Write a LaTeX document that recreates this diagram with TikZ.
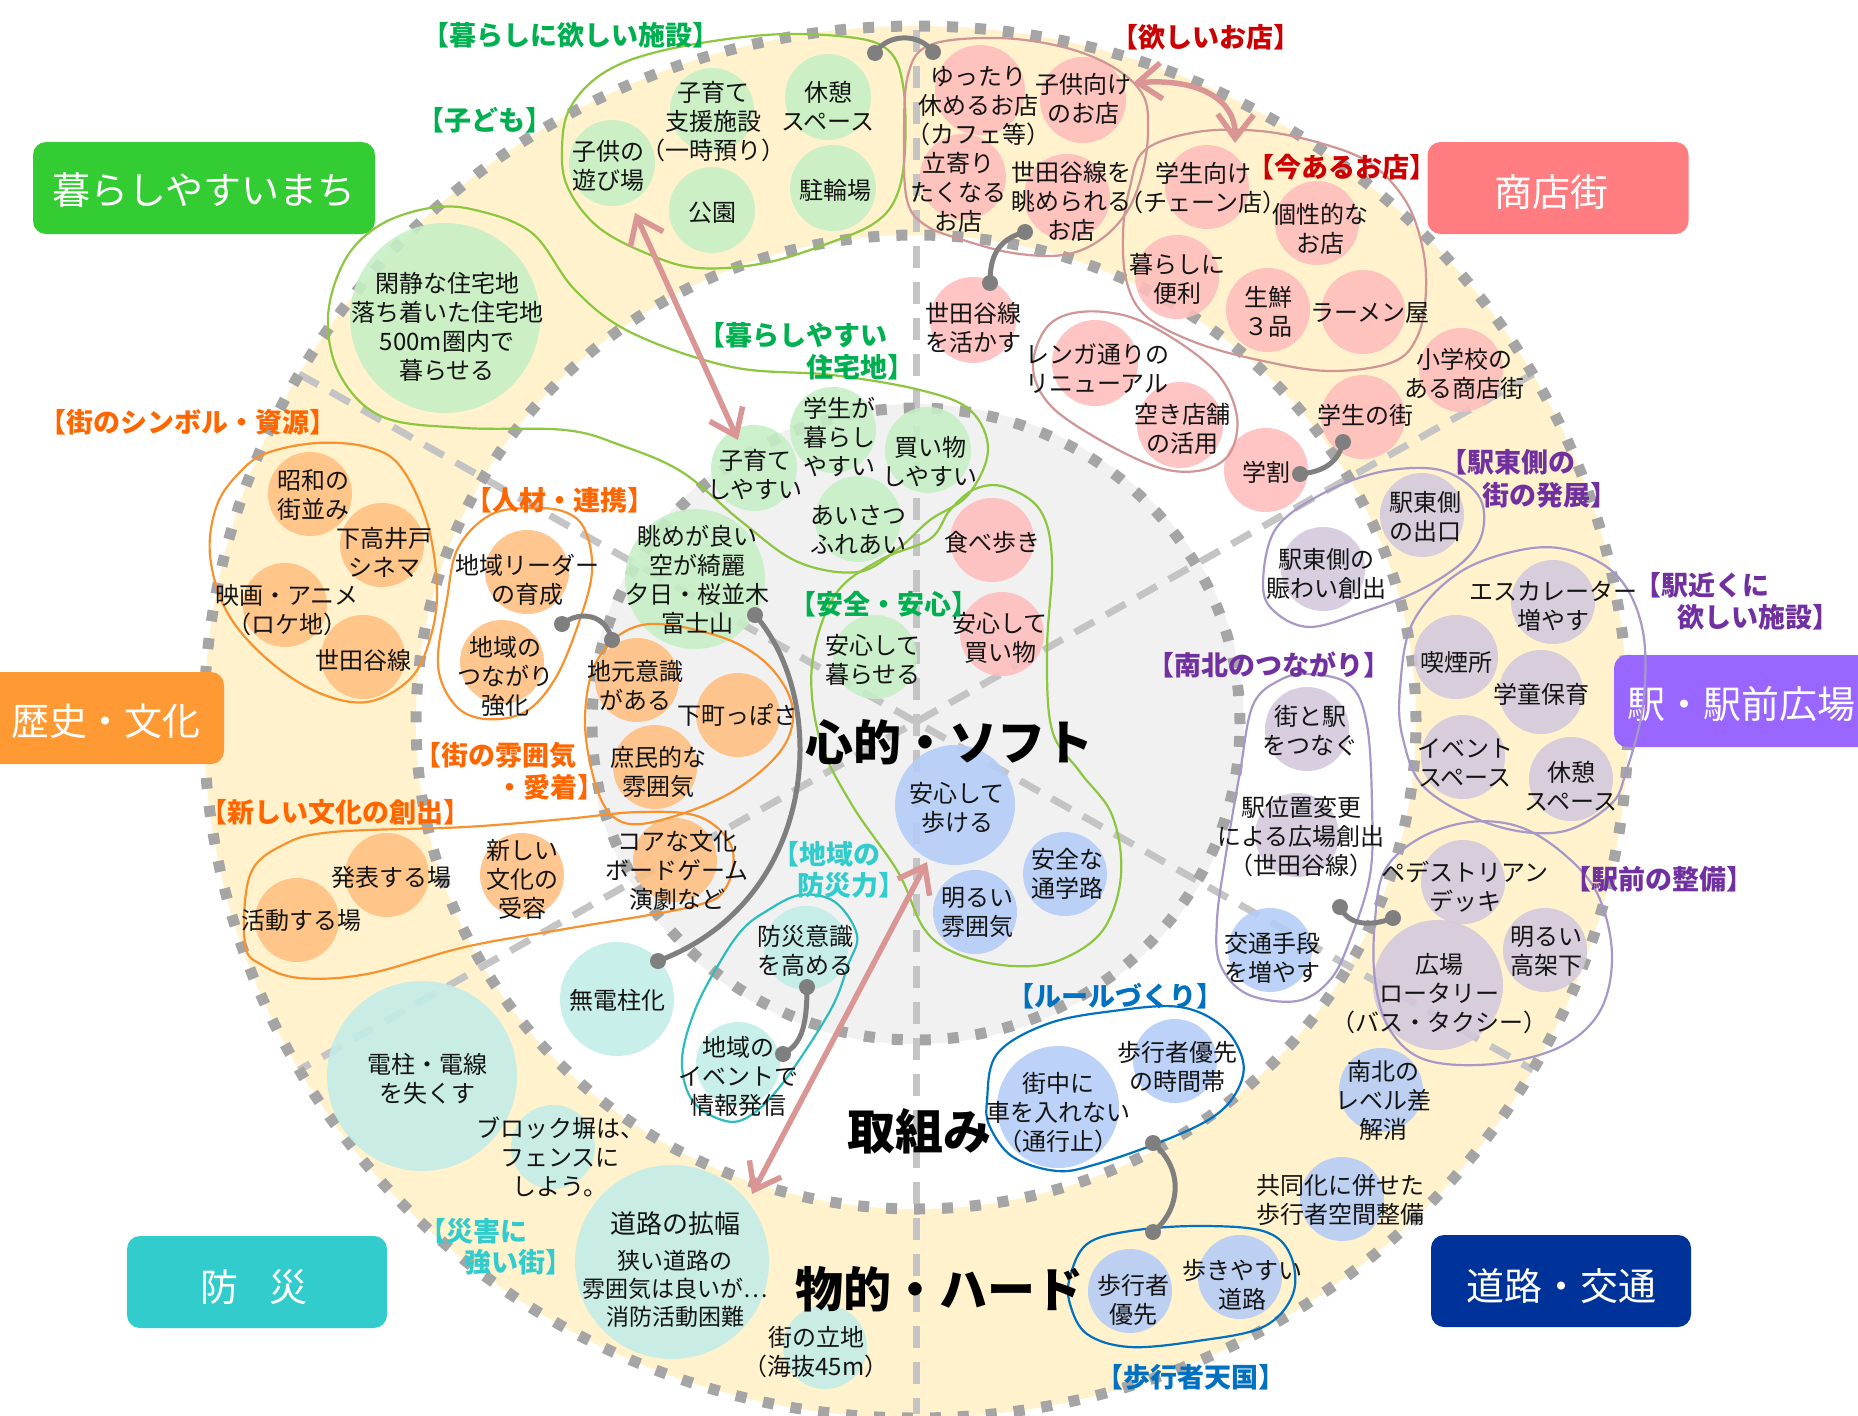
\documentclass[tikz,border=0pt]{standalone}
\usepackage{fontspec}
\setmainfont{Noto Sans CJK JP}
\usetikzlibrary{arrows.meta}
\definecolor{CR}{HTML}{FFF2CC}
\definecolor{IG}{HTML}{F1F1F1}
\definecolor{DG}{HTML}{A5A5A5}
\definecolor{RD}{HTML}{C4C4C4}
\definecolor{GB}{HTML}{C6EFC6}
\definecolor{PB}{HTML}{FFBDBD}
\definecolor{OB}{HTML}{FFBF80}
\definecolor{TB}{HTML}{C2EDE8}
\definecolor{BB}{HTML}{B4CCF8}
\definecolor{VB}{HTML}{D3C8DC}
\definecolor{GO}{HTML}{8DC63F}
\definecolor{PO}{HTML}{D09595}
\definecolor{OO}{HTML}{F7922E}
\definecolor{TO}{HTML}{2EBDBD}
\definecolor{BO}{HTML}{0070C0}
\definecolor{VO}{HTML}{A898C8}
\definecolor{GL}{HTML}{00B050}
\definecolor{RL}{HTML}{CC0000}
\definecolor{OL}{HTML}{FF6600}
\definecolor{TL}{HTML}{33CCCC}
\definecolor{BL}{HTML}{0070C0}
\definecolor{VL}{HTML}{7030A0}
\definecolor{CG}{HTML}{7F7F7F}
\definecolor{PA}{HTML}{D99694}
\definecolor{KG}{HTML}{33CC33}
\definecolor{KP}{HTML}{FF7C80}
\definecolor{KO}{HTML}{FF9933}
\definecolor{KV}{HTML}{9966FF}
\definecolor{KT}{HTML}{33CCCC}
\definecolor{KN}{HTML}{003399}
\tikzset{
  bub/.style={circle, inner sep=0pt, minimum size=84pt, fill opacity=0.88},
  gbub/.style={bub, fill=GB}, pbub/.style={bub, fill=PB}, obub/.style={bub, fill=OB},
  tbub/.style={bub, fill=TB}, bbub/.style={bub, fill=BB}, vbub/.style={bub, fill=VB},
  tx/.style={align=center, inner sep=0pt, font=\fontsize{24}{29}\selectfont, text=black!92},
  lab/.style={inner sep=0pt, font=\fontsize{27}{31}\selectfont\bfseries},
  catbox/.style={rounded corners=13pt, inner sep=0pt, minimum height=92pt},
  cattext/.style={text=white, inner sep=0pt, font=\fontsize{38}{41}\selectfont},
  big/.style={inner sep=0pt, font=\fontsize{48}{52}\selectfont\bfseries},
  grp/.style={line width=2.2pt},
  conn/.style={draw=CG, line width=5pt, line cap=round},
  cdot/.style={fill=CG},
  parrow/.style={draw=PA, line width=5.5pt, line cap=round, {Straight Barb[length=24pt,width=36pt]}-{Straight Barb[length=24pt,width=36pt]}},
  rad/.style={draw=RD, line width=7pt, dash pattern=on 22pt off 14pt},
  ring/.style={draw=DG, line width=11pt, dash pattern=on 11pt off 17pt},
}
\begin{document}
\begin{tikzpicture}[x=1pt,y=-1pt]
\useasboundingbox (0,0) rectangle (1858,1416);
% ---------------- base rings
\fill[CR] (916,722) ellipse [x radius=712pt, y radius=696pt];
\fill[white] (916,722) ellipse [x radius=500pt, y radius=487pt];
\fill[IG] (916,724) ellipse [x radius=328pt, y radius=320pt];
\draw[rad] (916,30) -- (916,1414);
\draw[rad] (1533,374) -- (299,1070);
\draw[rad] (299,374) -- (1533,1070);
\draw[ring] (916,722) ellipse [x radius=712pt, y radius=696pt];
\draw[ring] (916,722) ellipse [x radius=500pt, y radius=487pt];
\draw[ring] (916,724) ellipse [x radius=324pt, y radius=316pt];
% ---------------- category boxes
\node[catbox, fill=KG, minimum width=342pt] (box-kurashi) at (204,188) {};
\node[catbox, fill=KP, minimum width=261pt] (box-shoten) at (1558,188) {};
\node[catbox, fill=KO, minimum width=264pt] (box-rekishi) at (92,718) {};
\node[catbox, fill=KV, minimum width=270pt] (box-eki) at (1749,701) {};
\node[catbox, fill=KT, minimum width=260pt] (box-bosai) at (257,1282) {};
\node[catbox, fill=KN, minimum width=260pt] (box-doro) at (1561,1281) {};
\node[cattext] (cat-kurashi) at (204,190) {暮らしやすいまち};
\node[cattext] (cat-shoten) at (1551,192) {商店街};
\node[cattext] (cat-rekishi) at (106,721) {歴史・文化};
\node[cattext] (cat-eki) at (1741,704) {駅・駅前広場};
\node[cattext] (cat-bosai) at (254,1287) {防\hspace{32pt}災};
\node[cattext] (cat-doro) at (1561,1286) {道路・交通};
% ---------------- bubbles: green
\node[gbub, minimum size=86pt] (b-asobi) at (612,163) {};
\node[gbub] (b-shien) at (712,110) {};
\node[gbub, minimum size=86pt] (b-kyukei1) at (828,97) {};
\node[gbub, minimum size=86pt] (b-koen) at (712,210) {};
\node[gbub, minimum size=86pt] (b-churin) at (833,188) {};
\node[gbub, minimum size=190pt] (b-kansei) at (445,318) {};
\node[gbub, minimum size=86pt] (b-kosodate) at (754,468) {};
\node[gbub, minimum size=86pt] (b-gakusei) at (833,430) {};
\node[gbub, minimum size=86pt] (b-kaimono) at (928,450) {};
\node[gbub, minimum size=86pt] (b-aisatsu) at (858,519) {};
\node[gbub, minimum size=140pt] (b-nagame) at (695,579) {};
\node[gbub] (b-kuraseru) at (875,657) {};
% pink
\node[pbub, minimum size=90pt] (b-yuttari) at (980,90) {};
\node[pbub, minimum size=86pt] (b-kodomomuke) at (1083,100) {};
\node[pbub, minimum size=86pt] (b-tachiyori) at (963,177) {};
\node[pbub, minimum size=86pt] (b-nagamerareru) at (1067,197) {};
\node[pbub, minimum size=86pt] (b-ikasu) at (973,320) {};
\node[pbub] (b-gakuseimuke) at (1207,187) {};
\node[pbub] (b-kosei) at (1317,223) {};
\node[pbub] (b-benri) at (1177,277) {};
\node[pbub] (b-sen3) at (1268,310) {};
\node[pbub] (b-ramen) at (1363,312) {};
\node[pbub] (b-shogakko) at (1461,370) {};
\node[pbub] (b-gakuseimachi) at (1363,417) {};
\node[pbub] (b-gakuwari) at (1266,470) {};
\node[pbub, minimum size=86pt] (b-renga) at (1095,363) {};
\node[pbub, minimum size=86pt] (b-akitenpo) at (1180,425) {};
\node[pbub] (b-tabearuki) at (992,540) {};
\node[pbub] (b-anshinkaimono) at (1002,634) {};
% orange
\node[obub] (b-showa) at (310,494) {};
\node[obub] (b-shimotaka) at (382,545) {};
\node[obub] (b-eiga) at (285,605) {};
\node[obub] (b-setagayasen) at (363,657) {};
\node[obub] (b-leader) at (527,572) {};
\node[obub] (b-tsunagari) at (502,662) {};
\node[obub] (b-jimoto) at (637,680) {};
\node[obub] (b-shitamachi) at (738,715) {};
\node[obub] (b-shomin) at (655,767) {};
\node[obub] (b-happyo) at (387,875) {};
\node[obub] (b-katsudo) at (297,920) {};
\node[obub] (b-atarashii) at (522,875) {};
\node[obub] (b-core) at (675,860) {};
% teal
\node[tbub, minimum size=114pt] (b-mudenchu) at (617,999) {};
\node[tbub, minimum size=190pt] (b-denchu) at (422,1076) {};
\node[tbub] (b-block) at (553,1147) {};
\node[tbub, minimum size=194pt] (b-kakufuku) at (672,1262) {};
\node[tbub] (b-ritchi) at (825,1347) {};
\node[tbub] (b-ishiki) at (806,948) {};
\node[tbub] (b-event) at (738,1064) {};
% blue
\node[bbub, minimum size=120pt] (b-aruku) at (955,805) {};
\node[bbub] (b-tsugakuro) at (1065,874) {};
\node[bbub] (b-akarui) at (975,912) {};
\node[bbub, minimum size=122pt] (b-machinaka) at (1058,1107) {};
\node[bbub] (b-jikantai) at (1175,1061) {};
\node[bbub] (b-yusen) at (1130,1291) {};
\node[bbub] (b-arukiyasui) at (1240,1277) {};
\node[bbub] (b-level) at (1381,1090) {};
\node[bbub] (b-kyodoka) at (1342,1199) {};
\node[bbub] (b-kotsu) at (1270,950) {};
% purple
\node[vbub] (b-deguchi) at (1422,515) {};
\node[vbub] (b-nigiwai) at (1323,569) {};
\node[vbub] (b-escalator) at (1553,602) {};
\node[vbub] (b-kitsuen) at (1456,657) {};
\node[vbub] (b-gakudo) at (1541,692) {};
\node[vbub] (b-eventspace) at (1463,757) {};
\node[vbub] (b-kyukei2) at (1571,779) {};
\node[vbub] (b-deck) at (1463,882) {};
\node[vbub] (b-kouka) at (1545,950) {};
\node[vbub, minimum size=130pt] (b-hiroba) at (1438,985) {};
\node[vbub] (b-machieki) at (1307,729) {};
\node[vbub] (b-ekiichi) at (1297,835) {};
% ---------------- group outlines
\draw[grp, GO] plot[smooth cycle, tension=0.6] coordinates {(562,150) (570,108) (605,72) (665,50) (765,35) (848,37) (888,50) (903,85) (905,150) (897,195) (876,222) (832,242) (765,263) (698,268) (648,254) (598,227) (568,188)};
\draw[grp, GO] plot[smooth cycle, tension=0.6] coordinates {(328,317) (345,260) (380,225) (430,208) (475,210) (532,233) (575,290) (632,333) (732,367) (832,375) (920,390) (970,410) (988,450) (968,495) (930,520) (898,549) (858,572) (798,562) (742,522) (682,472) (620,445) (565,430) (465,428) (383,417) (340,375)};
\draw[grp, GO] plot[smooth cycle, tension=0.6] coordinates {(930,539) (950,510) (975,489) (1005,487) (1040,510) (1052,560) (1047,650) (1052,730) (1080,772) (1112,815) (1121,875) (1103,930) (1060,960) (1013,966) (960,955) (925,930) (898,872) (852,805) (820,740) (812,665) (835,595) (880,560)};
\draw[grp, PO] plot[smooth cycle, tension=0.6] coordinates {(908,75) (930,45) (997,38) (1063,47) (1113,67) (1143,95) (1148,130) (1143,170) (1128,210) (1100,240) (1063,255) (1013,253) (963,240) (925,225) (907,200) (904,140)};
\draw[grp, PO] plot[smooth cycle, tension=0.6] coordinates {(1123,233) (1130,187) (1145,150) (1197,132) (1260,131) (1320,143) (1370,163) (1405,200) (1422,245) (1426,290) (1418,335) (1393,362) (1330,371) (1263,361) (1197,343) (1147,317) (1127,283)};
\draw[grp, PO] plot[smooth cycle, tension=0.6] coordinates {(1033,367) (1047,327) (1080,312) (1130,317) (1180,343) (1220,377) (1237,417) (1230,453) (1203,470) (1160,468) (1100,440) (1050,405)};
\draw[grp, OO] plot[smooth cycle, tension=0.6] coordinates {(240,472) (267,453) (317,443) (367,447) (400,466) (427,522) (437,589) (430,639) (410,679) (367,702) (317,692) (267,659) (227,612) (210,555) (217,505)};
\draw[grp, OO] plot[smooth cycle, tension=0.6] coordinates {(447,599) (458,548) (490,515) (530,508) (565,512) (585,530) (592,572) (578,625) (555,679) (525,712) (485,719) (455,705) (438,665)};
\draw[grp, OO] plot[smooth cycle, tension=0.6] coordinates {(642,625) (715,635) (765,662) (792,705) (782,749) (732,792) (665,819) (622,822) (598,792) (585,722) (598,659)};
\draw[grp, OO] plot[smooth cycle, tension=0.6] coordinates {(245,944) (250,875) (283,845) (333,832) (465,827) (565,819) (640,812) (700,817) (732,848) (725,889) (690,907) (565,929) (465,947) (367,974) (300,978) (262,965)};
\draw[grp, TO] plot[smooth cycle, tension=0.6] coordinates {(765,912) (800,895) (835,902) (857,935) (848,965) (830,1011) (782,1084) (748,1117) (722,1120) (692,1100) (682,1060) (695,1010) (720,962) (742,930)};
\draw[grp, BO] plot[smooth cycle, tension=0.6] coordinates {(987,1101) (997,1054) (1047,1024) (1113,1011) (1180,1007) (1223,1027) (1243,1061) (1237,1091) (1213,1117) (1163,1141) (1097,1164) (1057,1171) (1013,1157) (990,1127)};
\draw[grp, BO] plot[smooth cycle, tension=0.6] coordinates {(1070,1277) (1087,1244) (1130,1231) (1197,1226) (1263,1231) (1290,1254) (1293,1294) (1263,1327) (1197,1341) (1130,1347) (1087,1334) (1070,1304)};
\draw[grp, VO] plot[smooth cycle, tension=0.6] coordinates {(1263,585) (1275,530) (1320,495) (1380,472) (1440,470) (1478,495) (1483,530) (1465,560) (1420,590) (1363,612) (1310,627) (1275,612)};
\draw[grp, VO] plot[smooth cycle, tension=0.6] coordinates {(1400,689) (1413,622) (1460,572) (1526,549) (1576,552) (1620,579) (1643,632) (1643,705) (1626,772) (1610,805) (1560,832) (1493,825) (1426,789) (1403,739)};
\draw[grp, VO] plot[smooth cycle, tension=0.6] coordinates {(1385,870) (1420,838) (1470,822) (1520,827) (1565,855) (1598,895) (1612,955) (1600,1011) (1560,1047) (1493,1064) (1426,1060) (1390,1030) (1375,980) (1375,920)};
\draw[grp, VO] plot[smooth cycle, tension=0.6] coordinates {(1253,705) (1280,680) (1310,674) (1350,685) (1367,725) (1372,805) (1370,875) (1350,940) (1330,980) (1297,1001) (1247,994) (1220,964) (1217,920) (1225,860) (1240,772)};
% ---------------- connectors
\coordinate (c1a) at (875,53); \coordinate (c1b) at (933,52);
\coordinate (c2a) at (1025,232); \coordinate (c2b) at (990,283);
\coordinate (c3a) at (1343,442); \coordinate (c3b) at (1300,474);
\coordinate (c4a) at (562,624); \coordinate (c4b) at (612,640);
\coordinate (c5a) at (755,615); \coordinate (c5b) at (658,961);
\coordinate (c6a) at (807,987); \coordinate (c6b) at (783,1054);
\coordinate (c7a) at (1153,1143); \coordinate (c7b) at (1153,1232);
\coordinate (c8a) at (1340,907); \coordinate (c8b) at (1393,918);
\draw[conn] (c1a) .. controls (888,33) and (920,33) .. (c1b);
\draw[conn] (c2a) .. controls (995,240) and (990,260) .. (c2b);
\draw[conn] (c3a) .. controls (1338,465) and (1320,472) .. (c3b);
\draw[conn] (c4a) .. controls (580,610) and (606,614) .. (c4b);
\draw[conn] (c5a) .. controls (830,700) and (820,900) .. (c5b);
\draw[conn] (c6a) .. controls (807,1030) and (800,1045) .. (c6b);
\draw[conn] (c7a) .. controls (1185,1170) and (1180,1210) .. (c7b);
\draw[conn] (c8a) .. controls (1350,928) and (1375,925) .. (c8b);
\foreach \c in {c1a,c1b,c2a,c2b,c3a,c3b,c4a,c4b,c5a,c5b,c6a,c6b,c7a,c7b,c8a,c8b}
  \fill[cdot] (\c) circle (8pt);
% pink arrows
\coordinate (a1a) at (635,213); \coordinate (a1b) at (738,440);
\coordinate (a2a) at (927,862); \coordinate (a2b) at (752,1194);
\coordinate (a3a) at (1133,83); \coordinate (a3b) at (1235,143);
\draw[parrow] (a1a) -- (a1b);
\draw[parrow] (a2a) -- (a2b);
\draw[parrow] (a3a) .. controls (1200,78) and (1236,100) .. (a3b);
% ---------------- bubble texts
\node[tx] (t-asobi) at (608,166) {子供の\\遊び場};
\node[tx] (t-shien) at (713,122) {子育て\\支援施設\\（一時預り）};
\node[tx] (t-kyukei1) at (828,106) {休憩\\スペース};
\node[tx] (t-koen) at (712,213) {公園};
\node[tx] (t-churin) at (835,190) {駐輪場};
\node[tx] (t-kansei) at (447,327) {閑静な住宅地\\落ち着いた住宅地\\500m圏内で\\暮らせる};
\node[tx] (t-kosodate) at (755,475) {子育て\\しやすい};
\node[tx] (t-gakusei) at (839,437) {学生が\\暮らし\\やすい};
\node[tx] (t-kaimono) at (930,462) {買い物\\しやすい};
\node[tx] (t-aisatsu) at (858,530) {あいさつ\\ふれあい};
\node[tx] (t-nagame) at (697,580) {眺めが良い\\空が綺麗\\夕日・桜並木\\富士山};
\node[tx] (t-kuraseru) at (873,660) {安心して\\暮らせる};
\node[tx] (t-yuttari) at (978,106) {ゆったり\\休めるお店\\（カフェ等）};
\node[tx] (t-kodomomuke) at (1083,99) {子供向け\\のお店};
\node[tx] (t-tachiyori) at (958,192) {立寄り\\たくなる\\お店};
\node[tx] (t-nagamerareru) at (1071,201) {世田谷線を\\眺められる\\お店};
\node[tx] (t-ikasu) at (973,328) {世田谷線\\を活かす};
\node[tx] (t-gakuseimuke) at (1203,188) {学生向け\\（チェーン店）};
\node[tx] (t-kosei) at (1320,229) {個性的な\\お店};
\node[tx] (t-benri) at (1177,279) {暮らしに\\便利};
\node[tx] (t-sen3) at (1268,312) {生鮮\\３品};
\node[tx] (t-ramen) at (1370,313) {ラーメン屋};
\node[tx] (t-shogakko) at (1464,374) {小学校の\\ある商店街};
\node[tx] (t-gakuseimachi) at (1365,415) {学生の街};
\node[tx] (t-gakuwari) at (1266,472) {学割};
\node[tx] (t-renga) at (1097,369) {レンガ通りの\\リニューアル};
\node[tx] (t-akitenpo) at (1182,429) {空き店舗\\の活用};
\node[tx] (t-tabearuki) at (992,542) {食べ歩き};
\node[tx] (t-anshinkaimono) at (1000,638) {安心して\\買い物};
\node[tx] (t-showa) at (313,495) {昭和の\\街並み};
\node[tx] (t-shimotaka) at (384,552) {下高井戸\\シネマ};
\node[tx] (t-eiga) at (287,610) {映画・アニメ\\（ロケ地）};
\node[tx] (t-setagayasen) at (363,660) {世田谷線};
\node[tx] (t-leader) at (527,580) {地域リーダー\\の育成};
\node[tx] (t-tsunagari) at (505,676) {地域の\\つながり\\強化};
\node[tx] (t-jimoto) at (635,686) {地元意識\\がある};
\node[tx] (t-shitamachi) at (737,715) {下町っぽさ};
\node[tx] (t-shomin) at (658,772) {庶民的な\\雰囲気};
\node[tx] (t-happyo) at (391,877) {発表する場};
\node[tx] (t-katsudo) at (301,920) {活動する場};
\node[tx] (t-atarashii) at (522,879) {新しい\\文化の\\受容};
\node[tx] (t-core) at (677,870) {コアな文化\\ボードゲーム\\演劇など};
\node[tx] (t-mudenchu) at (617,1000) {無電柱化};
\node[tx] (t-denchu) at (427,1079) {電柱・電線\\を失くす};
\node[tx] (t-block) at (560,1157) {ブロック塀は、\\フェンスに\\しよう。};
\node[tx, font=\fontsize{26}{30}\selectfont] (t-kakufuku) at (675,1224) {道路の拡幅};
\node[tx, font=\fontsize{23}{28}\selectfont] (t-kakufuku2) at (675,1289) {狭い道路の\\雰囲気は良いが…\\消防活動困難};
\node[tx] (t-ritchi) at (816,1352) {街の立地\\（海抜45m）};
\node[tx] (t-ishiki) at (805,951) {防災意識\\を高める};
\node[tx] (t-event) at (738,1076) {地域の\\イベントで\\情報発信};
\node[tx] (t-aruku) at (957,808) {安心して\\歩ける};
\node[tx] (t-tsugakuro) at (1067,874) {安全な\\通学路};
\node[tx] (t-akarui) at (977,912) {明るい\\雰囲気};
\node[tx] (t-machinaka) at (1058,1113) {街中に\\車を入れない\\（通行止）};
\node[tx] (t-jikantai) at (1177,1067) {歩行者優先\\の時間帯};
\node[tx] (t-yusen) at (1133,1300) {歩行者\\優先};
\node[tx] (t-arukiyasui) at (1242,1285) {歩きやすい\\道路};
\node[tx] (t-level) at (1383,1100) {南北の\\レベル差\\解消};
\node[tx] (t-kyodoka) at (1340,1200) {共同化に併せた\\歩行者空間整備};
\node[tx] (t-deguchi) at (1425,517) {駅東側\\の出口};
\node[tx] (t-nigiwai) at (1326,574) {駅東側の\\賑わい創出};
\node[tx] (t-escalator) at (1553,606) {エスカレーター\\増やす};
\node[tx] (t-kitsuen) at (1456,662) {喫煙所};
\node[tx] (t-gakudo) at (1541,694) {学童保育};
\node[tx] (t-eventspace) at (1465,763) {イベント\\スペース};
\node[tx] (t-kyukei2) at (1571,786) {休憩\\スペース};
\node[tx] (t-deck) at (1465,887) {ペデストリアン\\デッキ};
\node[tx] (t-kouka) at (1546,951) {明るい\\高架下};
\node[tx] (t-hiroba) at (1439,994) {広場\\ロータリー\\（バス・タクシー）};
\node[tx] (t-machieki) at (1310,731) {街と駅\\をつなぐ};
\node[tx] (t-ekiichi) at (1301,837) {駅位置変更\\による広場創出\\（世田谷線）};
\node[tx] (t-kotsu) at (1272,958) {交通手段\\を増やす};
% ---------------- group labels
\node[lab, text=GL] (l-shisetsu) at (571,35) {【暮らしに欲しい施設】};
\node[lab, text=GL] (l-kodomo) at (485,120) {【子ども】};
\node[lab, text=GL] (l-jutaku1) at (793,335) {【暮らしやすい};
\node[lab, text=GL] (l-jutaku2) at (860,367) {住宅地】};
\node[lab, text=GL] (l-anzen) at (884,604) {【安全・安心】};
\node[lab, text=RL] (l-hoshii) at (1206,37) {【欲しいお店】};
\node[lab, text=RL] (l-imaaru) at (1342,167) {【今あるお店】};
\node[lab, text=OL] (l-symbol) at (188,422) {【街のシンボル・資源】};
\node[lab, text=OL] (l-jinzai) at (560,500) {【人材・連携】};
\node[lab, text=OL] (l-fun1) at (495,755) {【街の雰囲気};
\node[lab, text=OL] (l-fun2) at (550,787) {・愛着】};
\node[lab, text=OL] (l-bunka) at (335,812) {【新しい文化の創出】};
\node[lab, text=TL] (l-bosai1) at (826,854) {【地域の};
\node[lab, text=TL] (l-bosai2) at (851,885) {防災力】};
\node[lab, text=TL] (l-saigai1) at (473,1231) {【災害に};
\node[lab, text=TL] (l-saigai2) at (518,1262) {強い街】};
\node[lab, text=BL] (l-rule) at (1115,996) {【ルールづくり】};
\node[lab, text=BL] (l-tengoku) at (1191,1377) {【歩行者天国】};
\node[lab, text=VL] (l-nanboku) at (1269,665) {【南北のつながり】};
\node[lab, text=VL] (l-higashi1) at (1508,462) {【駅東側の};
\node[lab, text=VL] (l-higashi2) at (1550,495) {街の発展】};
\node[lab, text=VL] (l-chikaku1) at (1702,585) {【駅近くに};
\node[lab, text=VL] (l-chikaku2) at (1758,617) {欲しい施設】};
\node[lab, text=VL] (l-ekimae) at (1659,879) {【駅前の整備】};
% ---------------- big labels
\node[big] (big-soft) at (949,742) {心的・ソフト};
\node[big] (big-torikumi) at (919,1131) {取組み};
\node[big] (big-hard) at (939,1289) {物的・ハード};
\end{tikzpicture}
\end{document}
